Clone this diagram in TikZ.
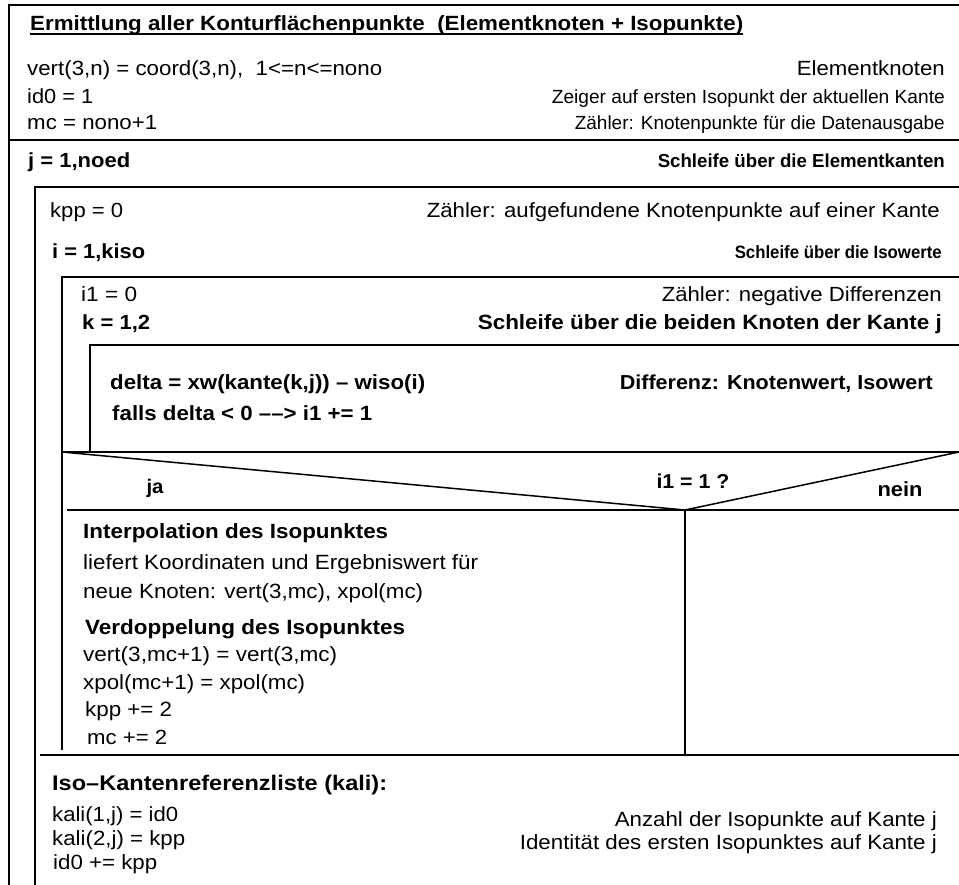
\documentclass[tikz,border=0pt]{standalone}
\usepackage{fontspec}
\setmainfont{Liberation Sans}
\usepackage{graphicx}
\usepackage{tikz}

% Text auf vorgegebene Breite bringen (Hoehe nur mit der Wurzel des Faktors)
\newlength\natbreite
\newcommand{\breit}[2]{%
  \settowidth{\natbreite}{#2}%
  \pgfmathsetmacro\fakx{#1/\natbreite}%
  \pgfmathsetmacro\faky{sqrt(\fakx)}%
  \scalebox{\fakx}[\faky]{#2}}

\begin{document}
\begin{tikzpicture}[x=1pt, y=-1pt,
    rahmen/.style={line width=1.5pt},
    links/.style={anchor=base west, inner sep=0pt, font=\fontsize{19}{23}\selectfont},
    rechts/.style={anchor=base east, inner sep=0pt, font=\fontsize{19}{23}\selectfont},
    mitte/.style={anchor=base, inner sep=0pt, font=\fontsize{19}{23}\selectfont},
    fett/.style={font=\fontsize{19}{23}\selectfont\bfseries}]

    \useasboundingbox (0,0) rectangle (959,885);

    % =================================================================
    % 1. RAHMEN DES STRUKTOGRAMMS
    % =================================================================
    % aeusserer Rahmen mit Initialisierungsteil
    \draw[rahmen] (9,885) -- (9,5) -- (959,5);
    \draw[rahmen] (9,140) -- (959,140);

    % Schleife ueber die Elementkanten (j)
    \draw[rahmen] (35,885) -- (35,187) -- (959,187);

    % Schleife ueber die Isowerte (i)
    \draw[rahmen] (62,750) -- (62,277) -- (959,277);
    \draw[rahmen] (40,755) -- (959,755);

    % Schleife ueber die Knoten der Kante (k)
    \draw[rahmen] (90,452) -- (90,345) -- (959,345);

    % Verzweigung i1 = 1 ?
    \draw[rahmen] (62,452) -- (959,452);
    \draw[rahmen] (62,452) -- (685,510) -- (959,452);
    \draw[rahmen] (67,510) -- (959,510);
    \draw[rahmen] (685,510) -- (685,755);

    % =================================================================
    % 2. INITIALISIERUNG
    % =================================================================
    \node[links, fett] (titel) at (30,31)
        {\breit{713}{Ermittlung aller Konturflächenpunkte\ \ (Elementknoten + Isopunkte)}};
    \draw[rahmen] ([yshift=-3pt]titel.base west) -- ([yshift=-3pt]titel.base east);
    \node[links] (vert) at (27,76) {\breit{355}{vert(3,n) = coord(3,n),\ \ 1<=n<=nono}};
    \node[links] (idnull) at (27,104) {\breit{66}{id0 = 1}};
    \node[links] (mc) at (27,130) {\breit{130}{mc = nono+1}};
    \node[rechts] (elemk) at (945,76) {\breit{148}{Elementknoten}};
    \node[rechts] (zeiger) at (945,104) {\breit{393}{Zeiger auf ersten Isopunkt der aktuellen Kante}};
    \node[rechts] (zaehler) at (945,130) {\breit{370}{Zähler: Knotenpunkte für die Datenausgabe}};

    % =================================================================
    % 3. SCHLEIFENKOEPFE
    % =================================================================
    \node[links, fett] (jschleife) at (28,168) {\breit{102}{j = 1,noed}};
    \node[rechts, fett] (jtext) at (945,168) {\breit{287}{Schleife über die Elementkanten}};

    \node[links] (kpp) at (50,218) {\breit{73}{kpp = 0}};
    \node[rechts] (kpptext) at (940,218) {\breit{513}{Zähler: aufgefundene Knotenpunkte auf einer Kante}};

    \node[links, fett] (ischleife) at (52,259) {\breit{93}{i = 1,kiso}};
    \node[rechts, fett] (itext) at (942,259) {\breit{207}{Schleife über die Isowerte}};

    \node[links] (ieins) at (81,302) {\breit{56}{i1 = 0}};
    \node[rechts] (ieinstext) at (942,302) {\breit{280}{Zähler: negative Differenzen}};

    \node[links, fett] (kschleife) at (82,330) {\breit{68}{k = 1,2}};
    \node[rechts, fett] (ktext) at (942,330) {\breit{464}{Schleife über die beiden Knoten der Kante j}};

    % Rumpf der k-Schleife
    \node[links, fett] (delta) at (110,389) {\breit{315}{delta = xw(kante(k,j)) – wiso(i)}};
    \node[rechts, fett] (deltatext) at (933,389) {\breit{313}{Differenz: Knotenwert, Isowert}};
    \node[links, fett] (falls) at (112,420) {\breit{260}{falls delta < 0 ––> i1 += 1}};

    % =================================================================
    % 4. VERZWEIGUNG
    % =================================================================
    \node[mitte, fett] (frage) at (693,488) {\breit{73}{i1 = 1 ?}};
    \node[mitte, fett] (ja) at (155,493) {\breit{17}{ja}};
    \node[mitte, fett] (nein) at (900,496) {\breit{45}{nein}};

    % ja-Zweig
    \node[links, fett] (interp) at (83,538) {\breit{305}{Interpolation des Isopunktes}};
    \node[links] (liefert) at (83,569) {\breit{395}{liefert Koordinaten und Ergebniswert für}};
    \node[links] (neue) at (83,598) {\breit{340}{neue Knoten: vert(3,mc), xpol(mc)}};
    \node[links, fett] (verdopp) at (85,634) {\breit{320}{Verdoppelung des Isopunktes}};
    \node[links] (vertmc) at (83,661) {\breit{254}{vert(3,mc+1) = vert(3,mc)}};
    \node[links] (xpolmc) at (83,689) {\breit{222}{xpol(mc+1) = xpol(mc)}};
    \node[links] (kppplus) at (85,716) {\breit{87}{kpp += 2}};
    \node[links] (mcplus) at (87,744) {\breit{80}{mc += 2}};

    % =================================================================
    % 5. ISO-KANTENREFERENZLISTE
    % =================================================================
    \node[links, fett] (isoliste) at (52,790) {\breit{335}{Iso–Kantenreferenzliste (kali):}};
    \node[links] (kalieins) at (52,821) {\breit{126}{kali(1,j) = id0}};
    \node[links] (kalizwei) at (52,845) {\breit{133}{kali(2,j) = kpp}};
    \node[links] (idplus) at (53,869) {\breit{104}{id0 += kpp}};
    \node[rechts] (anzahl) at (937,826) {\breit{322}{Anzahl der Isopunkte auf Kante j}};
    \node[rechts] (identitaet) at (937,849) {\breit{417}{Identität des ersten Isopunktes auf Kante j}};

\end{tikzpicture}
\end{document}
